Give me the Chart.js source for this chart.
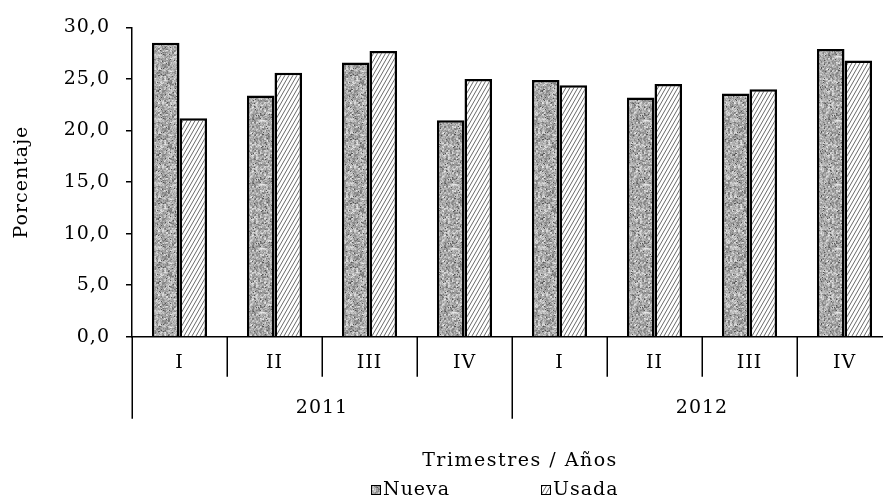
<!DOCTYPE html>
<html>
<head>
<meta charset="utf-8">
<script src="https://cdn.jsdelivr.net/npm/chart.js@4/dist/chart.umd.min.js"></script>
<style>
  html, body { margin: 0; padding: 0; overflow: hidden; background: #fff; }
  canvas { display: block; }
</style>
</head>
<body>
<canvas id="chart" width="900" height="503"></canvas>
<script>
// Quarterly share (%) of new vs. used units, 2011–2012
const quarters = ['I', 'II', 'III', 'IV', 'I', 'II', 'III', 'IV'];
const years = ['2011', '2012'];
const quartersPerYear = 4;
const nueva = [28.5, 23.4, 26.6, 21.0, 24.9, 23.2, 23.6, 27.9];
const usada = [21.2, 25.6, 27.7, 25.0, 24.4, 24.5, 24.0, 26.8];
const seriesNames = ['Nueva', 'Usada'];
const xTitle = 'Trimestres / Años';
const yTitle = 'Porcentaje';

const FONT = 'DejaVu Serif';
const TEXT_SIZE = 19;
const LETTER_SPACING = '1px';

// Grey mottled fill (deterministic hash, no randomness)
function speckleFill() {
  const size = 64;
  const c = document.createElement('canvas');
  c.width = c.height = size;
  const g = c.getContext('2d');
  const img = g.createImageData(size, size);
  let s = 987654321;
  const cell = new Array((size / 2) * (size / 2));
  for (let i = 0; i < cell.length; i++) {
    s = (Math.imul(s, 1664525) + 1013904223) >>> 0;
    cell[i] = (s >>> 16) & 255;
  }
  for (let y = 0; y < size; y++) {
    for (let x = 0; x < size; x++) {
      s = (Math.imul(s, 1664525) + 1013904223) >>> 0;
      const fine = (s >>> 16) & 255;
      const coarse = cell[(y >> 1) * (size / 2) + (x >> 1)];
      let v = 108 + Math.round(coarse * 0.28 + fine * 0.22);
      if ((fine & 31) === 5) v = 85;
      const i = (y * size + x) * 4;
      img.data[i] = v;
      img.data[i + 1] = v;
      img.data[i + 2] = v;
      img.data[i + 3] = 255;
    }
  }
  g.putImageData(img, 0, 0);
  return g.createPattern(c, 'repeat');
}

// White fill with thin steep diagonal hatching
function hatchFill() {
  const w = 4, h = 7;
  const c = document.createElement('canvas');
  c.width = w; c.height = h;
  const g = c.getContext('2d');
  g.fillStyle = '#fff';
  g.fillRect(0, 0, w, h);
  g.strokeStyle = '#444';
  g.lineWidth = 0.8;
  g.beginPath();
  for (let k = -1; k <= 1; k++) {
    g.moveTo(k * w, h);
    g.lineTo(k * w + w, 0);
  }
  g.stroke();
  return g.createPattern(c, 'repeat');
}

const fills = [speckleFill(), hatchFill()];

const textSpacing = {
  id: 'textSpacing',
  beforeInit(chart) { chart.ctx.letterSpacing = LETTER_SPACING; },
  beforeUpdate(chart) { chart.ctx.letterSpacing = LETTER_SPACING; },
  beforeDraw(chart) { chart.ctx.letterSpacing = LETTER_SPACING; }
};

// Category separators, year row, axis title and legend under the plot
const groupedAxis = {
  id: 'groupedAxis',
  afterDraw(chart) {
    const { ctx } = chart;
    const xs = chart.scales.x;
    const n = quarters.length;
    const step = (xs.right - xs.left) / n;
    ctx.save();
    ctx.letterSpacing = LETTER_SPACING;
    ctx.strokeStyle = '#000';
    ctx.lineWidth = 1.5;
    for (let i = 0; i <= n; i++) {
      const x = Math.round(xs.left + i * step) + 0.25;
      const len = (i % quartersPerYear === 0) ? 82 : 40;
      ctx.beginPath();
      ctx.moveTo(x, xs.top);
      ctx.lineTo(x, xs.top + len);
      ctx.stroke();
    }
    ctx.fillStyle = '#000';
    ctx.font = TEXT_SIZE + 'px "' + FONT + '"';
    ctx.textAlign = 'center';
    ctx.textBaseline = 'middle';
    years.forEach((yr, j) => {
      const cx = xs.left + (j + 0.5) * quartersPerYear * step;
      ctx.fillText(yr, cx, xs.top + 71);
    });
    ctx.letterSpacing = '1.5px';
    ctx.fillText(xTitle, (xs.left + xs.right) / 2 + 8, 461);
    ctx.letterSpacing = LETTER_SPACING;

    // legend
    const lx = [371, 541];
    chart.data.datasets.forEach((ds, k) => {
      const bx = lx[k], by = 485;
      ctx.fillStyle = ds.backgroundColor;
      ctx.fillRect(bx, by, 10, 10);
      ctx.lineWidth = 1;
      ctx.strokeStyle = '#000';
      ctx.strokeRect(bx + 0.5, by + 0.5, 9, 9);
      ctx.fillStyle = '#000';
      ctx.textAlign = 'left';
      ctx.fillText(ds.label, bx + 12, 490);
    });
    ctx.restore();
  }
};

Chart.defaults.font.family = FONT;
Chart.defaults.font.size = TEXT_SIZE;
Chart.defaults.color = '#000';

new Chart(document.getElementById('chart'), {
  type: 'bar',
  data: {
    labels: quarters,
    datasets: [
      { label: seriesNames[0], data: nueva, backgroundColor: fills[0], borderColor: '#000', borderWidth: 2.5 },
      { label: seriesNames[1], data: usada, backgroundColor: fills[1], borderColor: '#000', borderWidth: 2.5 }
    ]
  },
  options: {
    responsive: false,
    animation: false,
    events: [],
    layout: { padding: { left: 0, right: 8, top: 24.7, bottom: 126.3 } },
    plugins: { legend: { display: false }, tooltip: { enabled: false } },
    datasets: { bar: { categoryPercentage: 0.58, barPercentage: 1.0 } },
    scales: {
      x: {
        grid: { display: true, drawOnChartArea: false, drawTicks: false, color: 'rgba(0,0,0,0)' },
        border: { display: true, color: '#000', width: 1.5 },
        ticks: { padding: 15, maxRotation: 0, autoSkip: false },
        afterFit(scale) { scale.height = 40; }
      },
      y: {
        min: 0, max: 30,
        grid: { display: true, drawOnChartArea: false, drawTicks: true, tickLength: 6, color: '#000', lineWidth: 1.5 },
        border: { display: true, color: '#000', width: 1.5 },
        ticks: {
          stepSize: 5, padding: 16,
          callback: v => v.toFixed(1).replace('.', ',')
        },
        title: { display: true, text: yTitle, padding: { top: 11, bottom: 0 } },
        afterFit(scale) { scale.width = 132; }
      }
    }
  },
  plugins: [textSpacing, groupedAxis]
});
</script>
</body>
</html>
